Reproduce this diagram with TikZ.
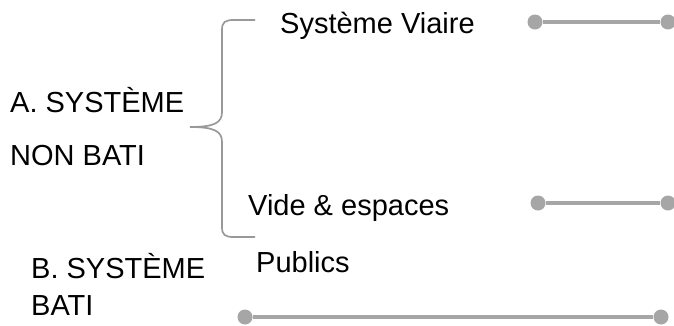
\documentclass[tikz,border=0pt]{standalone}
\usepackage{fontspec}
\setmainfont{Liberation Sans}
\definecolor{lg}{HTML}{A6A6A6}
\definecolor{bg}{HTML}{999999}
\begin{document}
\begin{tikzpicture}[x=1pt,y=-1pt,
  lbl/.style={anchor=base west,inner sep=0pt,font=\fontsize{29}{31}\selectfont},
  dot/.style={circle,fill=lg,minimum size=15pt,inner sep=0pt},
  conn/.style={draw=lg,line width=3.8pt}]
\useasboundingbox (0,0) rectangle (674,325);
\node[lbl] (sv) at (280,33) {Système Viaire};
\node[lbl] (asys) at (10,112) {A. SYSTÈME};
\node[lbl] (nb) at (10,165) {NON BATI};
\node[lbl] (ve) at (248,215) {Vide \& espaces};
\node[lbl] (pub) at (256,272) {Publics};
\node[lbl] (bsys) at (31,278) {B. SYSTÈME};
\node[lbl] (bati) at (31,315) {BATI};
\draw[bg,line width=1.7pt] (255,20) -- (234,20) .. controls (225,20) and (222,22) .. (222,30)
  -- (222,112) .. controls (222,123) and (214,127) .. (190,127)
  .. controls (214,127) and (222,131) .. (222,142)
  -- (222,227) .. controls (222,235) and (225,237) .. (234,237) -- (255,237);
\node[dot] (a1) at (535,22) {};
\node[dot] (a2) at (668,22) {};
\node[dot] (b1) at (538,203) {};
\node[dot] (b2) at (668,203) {};
\node[dot] (c1) at (245,317) {};
\node[dot] (c2) at (661,317) {};
\draw[conn] (a1) -- (a2);
\draw[conn] (b1) -- (b2);
\draw[conn] (c1) -- (c2);
\end{tikzpicture}
\end{document}
